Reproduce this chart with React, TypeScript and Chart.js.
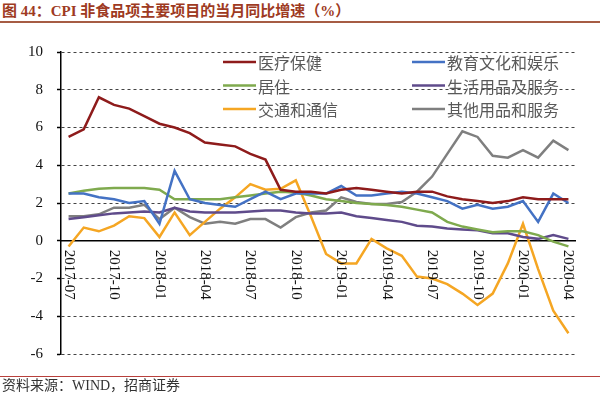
import React, { useEffect, useRef } from "react";
import { Chart, registerables } from "chart.js";

Chart.register(...registerables);

const months = [
  "2017-07", "2017-08", "2017-09", "2017-10", "2017-11", "2017-12",
  "2018-01", "2018-02", "2018-03", "2018-04", "2018-05", "2018-06",
  "2018-07", "2018-08", "2018-09", "2018-10", "2018-11", "2018-12",
  "2019-01", "2019-02", "2019-03", "2019-04", "2019-05", "2019-06",
  "2019-07", "2019-08", "2019-09", "2019-10", "2019-11", "2019-12",
  "2020-01", "2020-02", "2020-03", "2020-04",
];
const shownTickLabels = [
  "2017-07", "2017-10", "2018-01", "2018-04", "2018-07", "2018-10",
  "2019-01", "2019-04", "2019-07", "2019-10", "2020-01", "2020-04",
];
const yTicks = [10, 8, 6, 4, 2, 0, -2, -4, -6];

const medical = [5.5, 5.9, 7.6, 7.2, 7.0, 6.6, 6.2, 6.0, 5.7, 5.2, 5.1, 5.0, 4.6, 4.3, 2.7, 2.6, 2.6, 2.5, 2.7, 2.8, 2.7, 2.6, 2.5, 2.6, 2.6, 2.35, 2.2, 2.1, 2.0, 2.1, 2.3, 2.2, 2.2, 2.2];
const education = [2.5, 2.5, 2.3, 2.2, 2.0, 2.1, 0.9, 3.7, 2.2, 2.0, 1.9, 1.8, 2.2, 2.6, 2.2, 2.5, 2.5, 2.5, 2.9, 2.4, 2.4, 2.5, 2.6, 2.5, 2.3, 2.1, 1.7, 1.9, 1.7, 1.8, 2.1, 1.0, 2.5, 2.0];
const housing = [2.5, 2.65, 2.75, 2.8, 2.8, 2.8, 2.7, 2.2, 2.2, 2.2, 2.2, 2.3, 2.4, 2.5, 2.6, 2.55, 2.4, 2.2, 2.1, 2.0, 1.95, 1.9, 1.8, 1.65, 1.5, 1.0, 0.75, 0.6, 0.45, 0.5, 0.5, 0.3, -0.05, -0.3];
const household = [1.15, 1.25, 1.35, 1.45, 1.5, 1.55, 1.5, 1.75, 1.55, 1.5, 1.5, 1.5, 1.55, 1.6, 1.6, 1.5, 1.45, 1.45, 1.5, 1.3, 1.2, 1.1, 1.0, 0.8, 0.75, 0.65, 0.6, 0.55, 0.4, 0.4, 0.2, 0.1, 0.3, 0.1];
const transport = [-0.3, 0.7, 0.5, 0.8, 1.3, 1.2, 0.2, 1.5, 0.3, 1.0, 1.7, 2.3, 3.0, 2.7, 2.75, 3.2, 1.3, -0.7, -1.2, -1.2, 0.1, -0.4, -0.8, -1.9, -2.0, -2.3, -2.8, -3.4, -2.8, -1.2, 0.9, -1.5, -3.7, -4.9];
const others = [1.3, 1.3, 1.4, 1.75, 1.75, 1.9, 1.15, 1.75, 1.25, 0.9, 1.0, 0.9, 1.15, 1.15, 0.7, 1.25, 1.5, 1.6, 2.3, 2.05, 1.95, 1.95, 2.05, 2.6, 3.4, 4.6, 5.8, 5.5, 4.5, 4.4, 4.8, 4.4, 5.3, 4.8];

const seriesNames = ["医疗保健", "教育文化和娱乐", "居住", "生活用品及服务", "交通和通信", "其他用品和服务"];
const seriesData = [medical, education, housing, household, transport, others];
const seriesColors = ["#8E1B1B", "#4472C4", "#7FAA4E", "#5F4B8B", "#F5A623", "#7F7F7F"];

const SERIF = '"Liberation Serif", "Times New Roman", "Noto Sans CJK SC", serif';
const CJK = '"Noto Sans CJK SC", "Liberation Serif", serif';

const zeroLinePlugin = {
  id: "zeroLine",
  beforeDatasetsDraw(chart: any) {
    const { ctx, chartArea, scales } = chart;
    const y = scales.y.getPixelForValue(0);
    ctx.save();
    ctx.strokeStyle = "#000";
    ctx.lineWidth = 1.5;
    ctx.beginPath();
    ctx.moveTo(chartArea.left, y);
    ctx.lineTo(chartArea.right, y);
    ctx.stroke();
    ctx.restore();
  },
};

const xLabelPlugin = {
  id: "xLabels",
  afterDatasetsDraw(chart: any) {
    const { ctx, scales } = chart;
    const y0 = scales.y.getPixelForValue(0) + 9;
    ctx.save();
    ctx.fillStyle = "#111";
    ctx.font = `15px ${SERIF}`;
    ctx.textAlign = "left";
    ctx.textBaseline = "middle";
    months.forEach((m, i) => {
      if (!shownTickLabels.includes(m)) return;
      const x = scales.x.getPixelForValue(i);
      ctx.save();
      ctx.translate(x, y0);
      ctx.rotate(Math.PI / 2);
      ctx.fillText(m, 0, 0);
      ctx.restore();
    });
    ctx.restore();
  },
};

const legendPlugin = {
  id: "insideLegend",
  afterDatasetsDraw(chart: any) {
    const { ctx, chartArea } = chart;
    const colX = [chartArea.left + 162, chartArea.left + 351];
    const rowY = [chartArea.top + 10, chartArea.top + 33.5, chartArea.top + 57];
    const order = [0, 2, 4, 1, 3, 5];
    ctx.save();
    ctx.font = `16px ${CJK}`;
    ctx.textBaseline = "middle";
    ctx.textAlign = "left";
    order.forEach((si, k) => {
      const col = k < 3 ? 0 : 1;
      const row = k % 3;
      const x = colX[col];
      const y = rowY[row];
      ctx.strokeStyle = seriesColors[si];
      ctx.lineWidth = 2.5;
      ctx.beginPath();
      ctx.moveTo(x, y);
      ctx.lineTo(x + 33, y);
      ctx.stroke();
      ctx.fillStyle = "#595959";
      ctx.fillText(seriesNames[si], x + 35, y + 1);
    });
    ctx.restore();
  },
};

export default function App() {
  const canvasRef = useRef<HTMLCanvasElement | null>(null);

  useEffect(() => {
    if (!canvasRef.current) return;
    const chart = new Chart(canvasRef.current, {
      type: "line",
      data: {
        labels: months,
        datasets: seriesData.map((d, i) => ({
          label: seriesNames[i],
          data: d,
          borderColor: seriesColors[i],
          backgroundColor: seriesColors[i],
          borderWidth: 2.5,
          pointRadius: 0,
          tension: 0,
          fill: false,
        })),
      },
      options: {
        animation: false,
        responsive: false,
        devicePixelRatio: 1,
        layout: { padding: { left: 0, top: 52, right: 24, bottom: 41 } },
        plugins: {
          legend: { display: false },
          tooltip: { enabled: false },
          title: { display: false },
        },
        scales: {
          x: {
            type: "category",
            display: false,
            offset: true,
          },
          y: {
            min: -6,
            max: 10,
            afterBuildTicks(scale: any) {
              scale.ticks = yTicks.slice().reverse().map((v) => ({ value: v }));
            },
            afterFit(scale: any) {
              scale.width = 61;
              scale.paddingTop = 0;
              scale.paddingBottom = 0;
            },
            ticks: {
              stepSize: 2,
              padding: 14,
              color: "#111",
              font: { family: SERIF, size: 15 },
            },
            grid: {
              color: (ctx: any) => (ctx.tick && ctx.tick.value === 0 ? "rgba(0,0,0,0)" : "#444"),
              lineWidth: 1,
              drawTicks: true,
              tickLength: 4,
              tickColor: "#000",
              tickBorderDash: [],
              tickWidth: 1.5,
            },
            border: {
              display: true,
              color: "#000",
              width: 1.5,
              dash: [3, 3],
            },
          },
        },
      },
      plugins: [zeroLinePlugin, xLabelPlugin, legendPlugin],
    });
    return () => chart.destroy();
  }, []);

  return (
    <div style={{ position: "fixed", left: 0, top: 0, width: 600, height: 395, background: "#fff", overflow: "hidden" }}>
      <div
        style={{
          position: "absolute",
          left: 2,
          top: 2,
          fontFamily: SERIF,
          fontWeight: "bold",
          fontSize: 15,
          lineHeight: "18px",
          color: "#9E3A22",
          whiteSpace: "nowrap",
        }}
      >
        图 44：CPI 非食品项主要项目的当月同比增速（%）
      </div>
      <div style={{ position: "absolute", left: 0, top: 21, width: 600, height: 2, background: "#A65C44" }} />
      <canvas ref={canvasRef} width={600} height={395} style={{ position: "absolute", left: 0, top: 0, width: 600, height: 395 }} />
      <div style={{ position: "absolute", left: 0, top: 376, width: 600, height: 1, background: "#B8403C" }} />
      <div
        style={{
          position: "absolute",
          left: 2,
          top: 378,
          fontFamily: SERIF,
          fontSize: 14,
          lineHeight: "16px",
          color: "#333",
          whiteSpace: "nowrap",
        }}
      >
        资料来源：WIND，招商证券
      </div>
    </div>
  );
}
